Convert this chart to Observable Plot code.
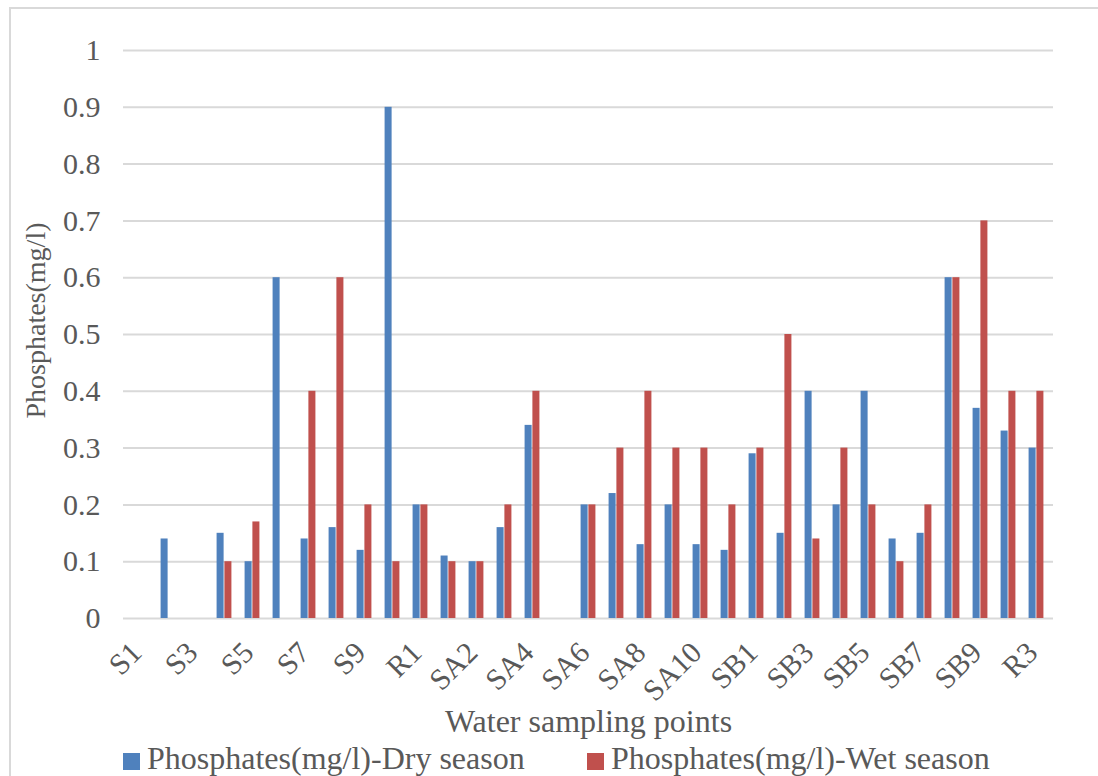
<!DOCTYPE html>
<html>
<head>
<meta charset="utf-8">
<script src="https://cdn.jsdelivr.net/npm/d3@7"></script>
<script src="https://cdn.jsdelivr.net/npm/@observablehq/plot@0.6"></script>
<style>
  html, body { margin: 0; padding: 0; background: #fff; overflow: hidden; }
  #wrap { position: relative; width: 1098px; height: 776px; font-family: "Liberation Serif", "Times New Roman", serif; color: #595959; }
  #chart svg { display: block; font-family: "Liberation Serif", "Times New Roman", serif !important; }
  #chart svg text { font-family: "Liberation Serif", "Times New Roman", serif; }
  #border { position: absolute; left: 9px; top: 7px; width: 1200px; height: 900px; border-left: 2px solid #d9d9d9; border-top: 2px solid #d9d9d9; pointer-events: none; }
  #legend { position: relative; height: 34px; font-size: 32px; line-height: 34px; }
  .item { position: absolute; top: -1px; white-space: nowrap; }
  .sw { display: inline-block; width: 17px; height: 17px; margin-right: 7px; vertical-align: -1px; }
</style>
</head>
<body>
<div id="wrap">
  <div id="chart"></div>
  <div id="legend"></div>
  <div id="border"></div>
</div>
<script>
const sites = ["S1","S2","S3","S4","S5","S6","S7","S8","S9","S10","R1",
  "SA1","SA2","SA3","SA4","SA5","SA6","SA7","SA8","SA9","SA10","R2",
  "SB1","SB2","SB3","SB4","SB5","SB6","SB7","SB8","SB9","SB10","R3"];
const drySeason = [null,0.14,null,0.15,0.10,0.60,0.14,0.16,0.12,0.90,0.20,
  0.11,0.10,0.16,0.34,null,0.20,0.22,0.13,0.20,0.13,0.12,
  0.29,0.15,0.40,0.20,0.40,0.14,0.15,0.60,0.37,0.33,0.30];
const wetSeason = [null,null,null,0.10,0.17,null,0.40,0.60,0.20,0.10,0.20,
  0.10,0.10,0.20,0.40,null,0.20,0.30,0.40,0.30,0.30,0.20,
  0.30,0.50,0.14,0.30,0.20,0.10,0.20,0.60,0.70,0.40,0.40];
const seriesNames = ["Phosphates(mg/l)-Dry season", "Phosphates(mg/l)-Wet season"];
const seriesColors = ["#4F81BD", "#C0504D"];
const yTicks = [0,0.1,0.2,0.3,0.4,0.5,0.6,0.7,0.8,0.9,1];
const xTickLabels = sites.filter((d, i) => i % 2 === 0);
const xTitle = "Water sampling points";
const yTitle = "Phosphates(mg/l)";

const dryRows = sites.map((s, i) => ({site: s, value: drySeason[i]})).filter(d => d.value != null);
const wetRows = sites.map((s, i) => ({site: s, value: wetSeason[i]})).filter(d => d.value != null);

const W = 1098, H = 742, mL = 123, mR = 45, mT = 50, mB = 124;
const bw = (W - mL - mR) / sites.length;
const half = bw / 2;
const barW = 7.2;

const chart = Plot.plot({
  width: W, height: H,
  marginLeft: mL, marginRight: mR, marginTop: mT, marginBottom: mB,
  style: "font-family: 'Liberation Serif', 'Times New Roman', serif; font-size: 30px; color: #595959; background: transparent;",
  x: {type: "band", domain: sites, padding: 0},
  y: {domain: [0, 1]},
  marks: [
    Plot.gridY(yTicks, {stroke: "#d9d9d9", strokeOpacity: 1, strokeWidth: 2}),
    Plot.barY(dryRows, {x: "site", y: "value", fill: seriesColors[0], insetLeft: half - barW - 0.3, insetRight: half + 0.3}),
    Plot.barY(wetRows, {x: "site", y: "value", fill: seriesColors[1], insetLeft: half + 0.3, insetRight: half - barW - 0.3}),
    Plot.axisY({ticks: yTicks, tickSize: 0, tickPadding: 23, label: null, fontSize: 30, fill: "#595959",
      tickFormat: d => String(+d.toFixed(1))}),
    Plot.axisX({ticks: xTickLabels, tickSize: 0, tickPadding: 29, dx: -4, tickRotate: -45, label: null, fontSize: 30, fill: "#595959"}),
    Plot.text([xTitle], {text: d => d, frameAnchor: "bottom", dy: 113, fontSize: 32, fill: "#595959"}),
    Plot.text([yTitle], {text: d => d, frameAnchor: "left", textAnchor: "middle", dx: -87, dy: -14, rotate: -90, fontSize: 28, fill: "#595959"})
  ]
});
document.getElementById("chart").appendChild(chart);

const legend = document.getElementById("legend");
const lefts = [123, 587];
seriesNames.forEach((name, i) => {
  const it = document.createElement("div");
  it.className = "item";
  it.style.left = lefts[i] + "px";
  const sw = document.createElement("span");
  sw.className = "sw";
  sw.style.background = seriesColors[i];
  it.appendChild(sw);
  it.appendChild(document.createTextNode(name));
  legend.appendChild(it);
});
</script>
</body>
</html>
